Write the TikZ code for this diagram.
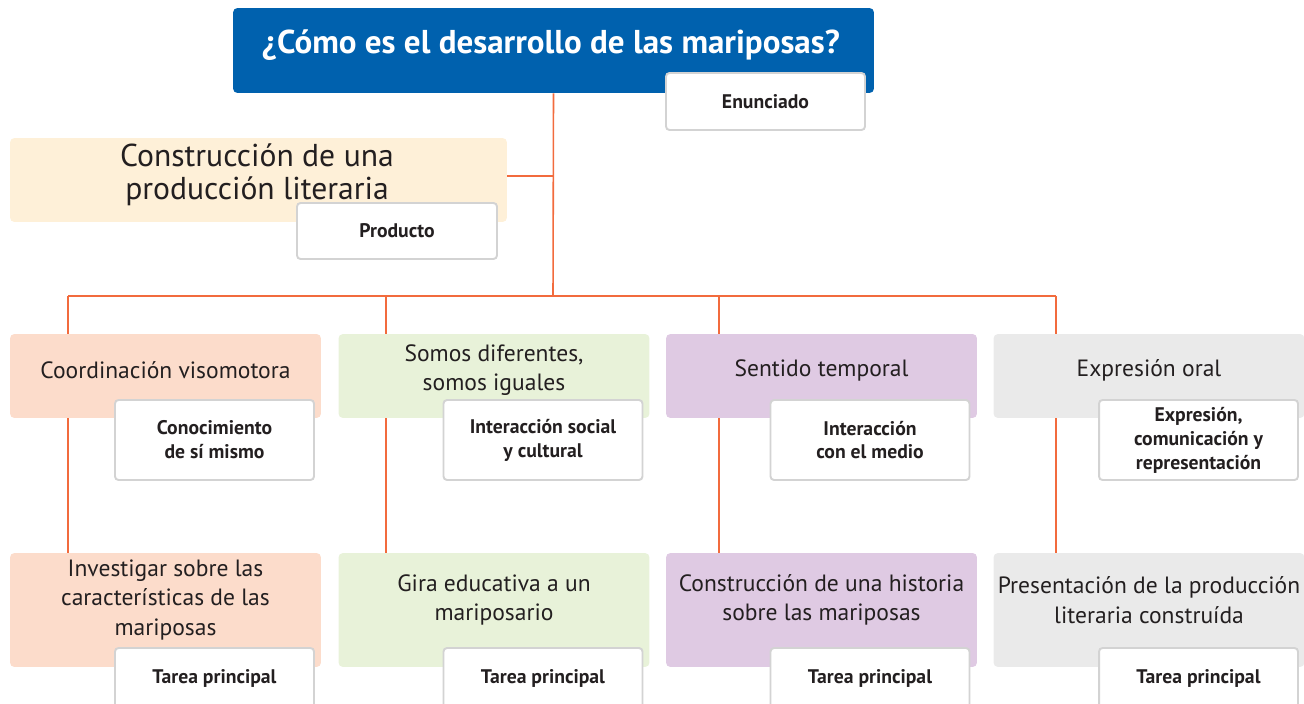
\documentclass[tikz,border=0pt]{standalone}
\usepackage{fontspec}
\setmainfont{PT Sans}
\usetikzlibrary{backgrounds}

\definecolor{azul}{HTML}{0061AE}
\definecolor{linea}{HTML}{F26B3D}
\definecolor{crema}{HTML}{FEF0D8}
\definecolor{durazno}{HTML}{FCDCCB}
\definecolor{verde}{HTML}{E8F2D9}
\definecolor{lila}{HTML}{DFCAE3}
\definecolor{gris}{HTML}{EAEAEA}
\definecolor{borde}{HTML}{D3D3D3}
\definecolor{tinta}{HTML}{231F20}

\begin{document}
\begin{tikzpicture}[x=0.02cm, y=-0.02cm,
    area/.style={rounded corners=2.5pt, minimum width=6.22cm, minimum height=1.68cm, inner sep=0pt},
    etiqueta/.style={draw=borde, line width=1.1pt, fill=white, rounded corners=2pt, minimum width=3.98cm, minimum height=1.6cm, inner sep=0pt, align=center, text=tinta, font=\bfseries\fontsize{11.2}{13.6}\selectfont},
    texto/.style={align=center, text=tinta, font=\fontsize{13.4}{16.8}\selectfont},
    conector/.style={draw=linea, line width=0.9pt}]
    \useasboundingbox (0,0) rectangle (1304,703);

    % pregunta y enunciado
    \node[area, fill=azul, minimum width=12.82cm, minimum height=1.70cm] (tit) at (553.5,50.5) {};
    \node[text=white, font=\bfseries\fontsize{18.8}{22}\selectfont] (titT) at (551,45) {¿Cómo es el desarrollo de las mariposas?};
    \node[etiqueta, minimum height=1.14cm] (enun) at (765.5,101.5) {Enunciado};

    % producto
    \node[area, fill=crema, minimum width=9.94cm] (prod) at (258.5,180) {};
    \node[texto, font=\fontsize{18}{18.8}\selectfont] (prodT) at (257,175) {Construcción de una\\producción literaria};
    \node[etiqueta, minimum width=4cm, minimum height=1.12cm] (prodE) at (397,231) {Producto};

    % campos y tareas
    \foreach \n/\cx/\ex/\col/\campo/\eje/\tarea in {
        1/165.5/214.5/durazno/{Coordinación visomotora}/{Conocimiento\\de sí mismo}/{Investigar sobre las\\características de las\\mariposas},
        2/494/543/verde/{Somos diferentes,\\somos iguales}/{Interacción social\\y cultural}/{Gira educativa a un\\mariposario},
        3/821.5/870/lila/{Sentido temporal}/{Interacción\\con el medio}/{Construcción de una historia\\sobre las mariposas},
        4/1149/1198.5/gris/{Expresión oral}/{Expresión,\\comunicación y\\representación}/{Presentación de la producción\\literaria construída}}{
        \node[area, fill=\col] (c\n) at (\cx,376) {};
        \node[texto] (ct\n) at (\cx,370) {\campo};
        \node[etiqueta] (e\n) at (\ex,440) {\eje};
        \node[area, fill=\col, minimum height=2.28cm] (t\n) at (\cx,610) {};
        \node[texto] (tt\n) at (\cx,600) {\tarea};
        \node[etiqueta, minimum height=1.2cm] (p\n) at (\ex,678) {Tarea principal};
    }

    % conectores
    \begin{scope}[on background layer]
        \coordinate (J) at (553,296);
        \coordinate (P) at (prod.east |- 0,176);
        \draw[conector] (tit.south) -- (J);
        \draw[conector] (P) -- (P -| J);
        \foreach \n/\bx in {1/68, 2/386, 3/719, 4/1056}{
            \coordinate (b\n) at (\bx,296);
            \draw[conector] (b\n) -- (b\n |- t\n.north);
        }
        \draw[conector] (b1) -- (b4);
    \end{scope}
\end{tikzpicture}
\end{document}
